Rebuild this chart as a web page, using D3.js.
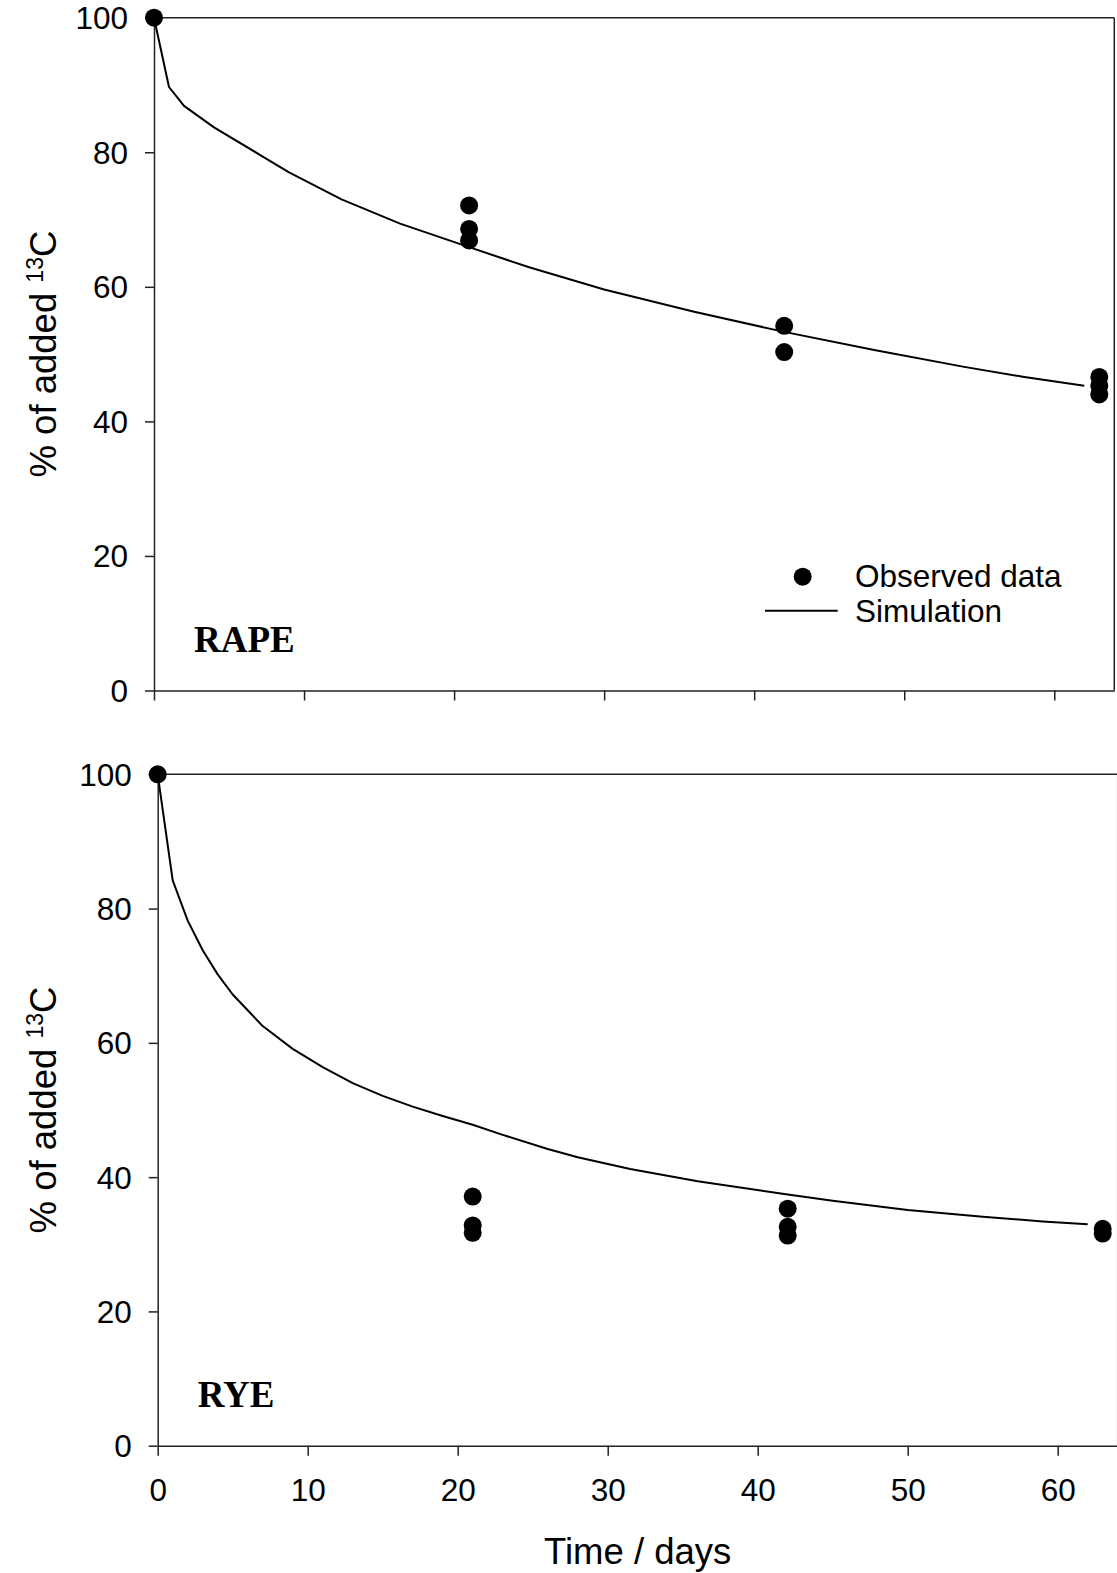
<!DOCTYPE html>
<html>
<head>
<meta charset="utf-8">
<script src="https://cdn.jsdelivr.net/npm/d3@7"></script>
<style>
  html, body { margin: 0; padding: 0; background: #fff; }
  svg { display: block; }
</style>
</head>
<body>
<svg id="chart" width="1117" height="1573"></svg>
<script>
// ---------------- DATA ----------------
const xTicks = [0, 10, 20, 30, 40, 50, 60];
const yTicks = [0, 20, 40, 60, 80, 100];

// RAPE panel
const rapeObsDays   = [0, 21, 21, 21, 42, 42, 63, 63, 63];
const rapeObsValues = [100, 72.1, 68.6, 66.9, 54.2, 50.3, 46.6, 45.3, 44.0];
const rapeSimDays   = [0, 1, 2, 4, 7, 9, 12.5, 16.4, 21, 25, 30, 36, 42, 48, 54, 58, 62];
const rapeSimValues = [100, 89.7, 86.9, 83.7, 79.7, 77.0, 73.0, 69.4, 65.9, 62.9, 59.6, 56.3, 53.3, 50.6, 48.1, 46.6, 45.3];

// RYE panel
const ryeObsDays   = [0, 21, 21, 21, 42, 42, 42, 63, 63];
const ryeObsValues = [100, 37.1, 32.8, 31.7, 35.3, 32.6, 31.3, 32.3, 31.6];
const ryeSimDays   = [0, 1, 2, 3, 4, 5, 7, 9, 11, 13, 15, 17, 19, 21, 23, 26, 28, 31.5, 36, 42, 45, 50, 55, 59, 62];
const ryeSimValues = [100, 84.2, 78.2, 73.8, 70.2, 67.2, 62.5, 59.1, 56.4, 54.0, 52.1, 50.5, 49.1, 47.8, 46.3, 44.2, 42.95, 41.2, 39.4, 37.4, 36.5, 35.1, 34.1, 33.4, 33.0];

const panelLabels = ["RAPE", "RYE"];
const legendLabels = ["Observed data", "Simulation"];
const xTitle = "Time / days";

// ---------------- LAYOUT ----------------
const svg = d3.select("#chart");
const SANS = "'Liberation Sans', Arial, Helvetica, sans-serif";
const SERIF = "'Liberation Serif', 'Times New Roman', Times, serif";
const AX = "#222";
const TICK_FS = 31.5;
const TITLE_FS = 36.5;

const panels = [
  { left: 154, right: 1114.3, top: 17.7, bottom: 690.5, days: rapeObsDays, vals: rapeObsValues,
    sd: rapeSimDays, sv: rapeSimValues, label: panelLabels[0], xLabels: false, legend: true },
  { left: 157.7, right: 1117.7, top: 774.3, bottom: 1445.7, days: ryeObsDays, vals: ryeObsValues,
    sd: ryeSimDays, sv: ryeSimValues, label: panelLabels[1], xLabels: true, legend: false }
];

panels.forEach(p => {
  const x = d3.scaleLinear().domain([0, 64]).range([p.left, p.right]);
  const y = d3.scaleLinear().domain([0, 100]).range([p.bottom, p.top]);
  const g = svg.append("g");

  // frame top & right
  g.append("line").attr("x1", p.left).attr("x2", p.right).attr("y1", p.top).attr("y2", p.top)
    .attr("stroke", AX).attr("stroke-width", 1.5);
  g.append("line").attr("x1", p.right).attr("x2", p.right).attr("y1", p.top).attr("y2", p.bottom)
    .attr("stroke", AX).attr("stroke-width", 1.5);

  // y axis
  const ya = g.append("g").attr("transform", `translate(${p.left},0)`)
    .call(d3.axisLeft(y).tickValues(yTicks).tickSize(9).tickSizeOuter(0).tickPadding(17));
  ya.selectAll("text").attr("font-family", SANS).attr("font-size", TICK_FS).attr("fill", "#000").attr("dy", "0.35em");

  // x axis
  const xa = g.append("g").attr("transform", `translate(0,${p.bottom})`)
    .call(d3.axisBottom(x).tickValues(xTicks).tickSize(10).tickSizeOuter(0).tickPadding(23)
      .tickFormat(p.xLabels ? d3.format("d") : () => ""));
  xa.selectAll("text").attr("font-family", SANS).attr("font-size", TICK_FS).attr("fill", "#000");

  [ya, xa].forEach(a => {
    a.select(".domain").attr("stroke", AX).attr("stroke-width", 1.5);
    a.selectAll(".tick line").attr("stroke", AX).attr("stroke-width", 1.5);
  });

  // simulation line
  const simPts = p.sd.map((d, i) => [d, p.sv[i]]);
  g.append("path").datum(simPts)
    .attr("fill", "none").attr("stroke", "#000").attr("stroke-width", 2)
    .attr("stroke-linejoin", "round")
    .attr("d", d3.line().x(d => x(d[0])).y(d => y(d[1])));

  // observed dots
  const obs = p.days.map((d, i) => [d, p.vals[i]]);
  g.selectAll("circle.obs").data(obs).enter().append("circle")
    .attr("class", "obs")
    .attr("cx", d => x(d[0])).attr("cy", d => y(d[1])).attr("r", 9).attr("fill", "#000");

  // panel label
  g.append("text").attr("x", p.left + 40).attr("y", p.bottom - 38.5)
    .attr("font-family", SERIF).attr("font-weight", "bold").attr("font-size", 37)
    .text(p.label);

  // y title
  const yt = g.append("text")
    .attr("transform", `translate(56,${(p.top + p.bottom) / 2}) rotate(-90)`)
    .attr("text-anchor", "middle").attr("font-family", SANS).attr("font-size", TITLE_FS);
  yt.append("tspan").text("% of added ");
  yt.append("tspan").attr("font-size", 23).attr("dy", -13).text("13");
  yt.append("tspan").attr("dy", 13).text("C");

  // legend
  if (p.legend) {
    const lg = g.append("g");
    lg.append("circle").attr("cx", 802.7).attr("cy", 576.7).attr("r", 9).attr("fill", "#000");
    lg.append("text").attr("x", 855).attr("y", 587).attr("font-family", SANS).attr("font-size", TICK_FS)
      .text(legendLabels[0]);
    lg.append("line").attr("x1", 765).attr("x2", 837.7).attr("y1", 610.7).attr("y2", 610.7)
      .attr("stroke", "#000").attr("stroke-width", 2);
    lg.append("text").attr("x", 855).attr("y", 621.7).attr("font-family", SANS).attr("font-size", TICK_FS)
      .text(legendLabels[1]);
  }

  if (p.xLabels) {
    g.append("text").attr("x", (p.left + p.right) / 2).attr("y", 1564)
      .attr("text-anchor", "middle").attr("font-family", SANS).attr("font-size", TITLE_FS)
      .text(xTitle);
  }
});
</script>
</body>
</html>
